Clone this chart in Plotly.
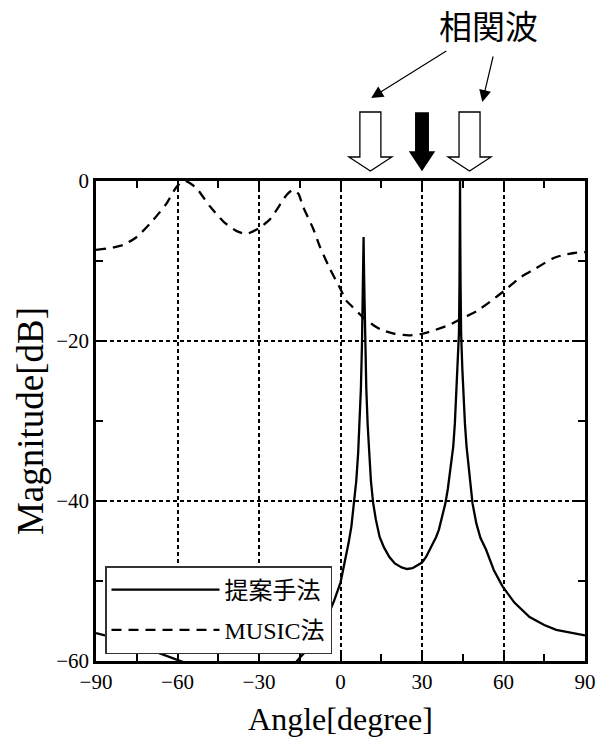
import plotly.graph_objects as go

# --- Spatial spectrum: proposed method (solid) ---
prop_angle = [-90, -80, -70, -66, -60, -55, -50, -45, -40, -35, -30, -25, -20, -17, -15,
              -12.5, -10, -7.5, -5, -2.5, 0, 1.7, 3.0, 4.0, 5.0, 5.8, 6.5, 7.0, 7.5, 7.9,
              8.2, 8.4, 8.5, 8.6, 8.8, 9.1, 9.5, 10.0, 10.5, 11.2, 12.0, 13.0, 14.4, 16,
              18, 20, 22.5, 24.5, 26.5, 28, 30, 31.5, 32.8, 34, 35.2, 36.2, 37, 38.6,
              39.5, 40.5, 41.5, 42.1, 42.6, 43.1, 43.6, 43.8, 43.92, 44.0, 44.08, 44.2,
              44.4, 44.85, 45.3, 45.8, 46.4, 47.4, 48.6, 50, 51.5, 53.6, 56.5, 59.7, 64,
              69.6, 75, 79.4, 85, 90]
prop_db = [-56.5, -57.4, -58.6, -59.1, -59.9, -60.5, -61.8, -63.0, -64.0, -64.3, -63.8,
           -62.6, -61.2, -60.4, -59.6, -58.7, -57.6, -56.3, -54.6, -52.6, -50.2, -47.5,
           -45.2, -43.2, -40.2, -37.5, -34.0, -30.5, -26.0, -20.5, -14.0, -10.0, -7.0,
           -10.0, -14.0, -20.5, -26.0, -30.5, -34.0, -37.5, -40.2, -42.3, -44.5, -45.8,
           -47.0, -47.8, -48.3, -48.5, -48.4, -48.1, -47.7, -47.0, -46.1, -45.4, -44.5,
           -43.6, -42.6, -40.3, -38.5, -36.0, -33.2, -30.3, -27.0, -23.5, -19.0, -13.0,
           -7.0, 0.0, -7.0, -13.0, -19.0, -23.5, -27.0, -30.3, -33.2, -36.5, -40.3,
           -42.8, -44.6, -46.1, -48.7, -50.7, -52.7, -54.5, -55.5, -56.1, -56.5, -56.8]

# --- Spatial spectrum: MUSIC (dashed) ---
music_angle = [-90, -85, -80, -75, -69, -64, -62, -60, -58.5, -57, -55.5, -53, -48, -43,
               -38, -34.5, -30, -26, -23.5, -20, -17.5, -15.5, -13.8, -10, -7.6, -4, 0,
               2, 4, 8.5, 12, 15, 20, 25, 30, 35, 40, 44, 50, 55, 60, 66, 72, 78, 82, 86,
               90]
music_db = [-8.6, -8.4, -8.0, -7.0, -4.9, -2.8, -1.6, -0.6, -0.15, 0.0, -0.25, -0.9,
            -3.2, -5.1, -6.3, -6.6, -5.9, -4.8, -3.6, -1.8, -1.1, -1.6, -3.2, -6.0, -8.2,
            -10.9, -13.5, -14.9, -15.6, -17.1, -18.0, -18.6, -19.1, -19.3, -19.1, -18.6,
            -18.0, -17.3, -16.3, -15.1, -13.8, -12.1, -10.9, -9.7, -9.25, -9.0, -8.9]

# --- Arrival directions marked above the plot ---
arrow_angles = [11, 30, 47.5]
arrow_filled = [False, True, False]
corr_label = "相関波"
corr_label_angle = 54.5
corr_targets = [11.3, 52.2]
corr_tails = [39.5, 56.3]

x_ticks = [-90, -60, -30, 0, 30, 60, 90]
y_ticks = [-60, -40, -20, 0]

serif = "Liberation Serif, Times New Roman, Noto Sans CJK JP"
cjk = "Noto Sans CJK JP"

fig = go.Figure()
fig.add_trace(go.Scatter(x=prop_angle, y=prop_db, mode="lines", name="提案手法",
                         line=dict(color="black", width=2.3),
                         legendgroup="a", xaxis="x", yaxis="y"))
fig.add_trace(go.Scatter(x=music_angle, y=music_db, mode="lines", name="MUSIC法",
                         line=dict(color="black", width=2.3, dash="10px,7px",
                                   shape="spline", smoothing=0.6),
                         legendgroup="b", xaxis="x", yaxis="y"))

# block arrows drawn in the strip above the plot (x in degrees, y in px above plot top)
deg_per_px = 180 / 489
shapes = []
for a, filled in zip(arrow_angles, arrow_filled):
    if filled:
        sw, hw, top, base, tip = 6.3, 12.0, 68, 29, 11
    else:
        sw, hw, top, base, tip = 10.5, 21.5, 69, 24, 10
    sw *= deg_per_px
    hw *= deg_per_px
    path = (f"M{a - sw},{top} L{a + sw},{top} L{a + sw},{base} L{a + hw},{base} "
            f"L{a},{tip} L{a - hw},{base} L{a - sw},{base} Z")
    shapes.append(dict(type="path", path=path, xref="x2", yref="y2",
                       fillcolor="black" if filled else "white",
                       line=dict(color="black", width=1.3)))

annotations = [dict(text=corr_label, x=corr_label_angle, y=156, xref="x2", yref="y2",
                    showarrow=False, font=dict(family=cjk, size=33, color="black"))]
tail_y = [131, 126]
head_y = [83, 79]
for xt, xh, yt, yh in zip(corr_tails, corr_targets, tail_y, head_y):
    annotations.append(dict(text="", x=xh, y=yh, xref="x2", yref="y2",
                            ax=xt, ay=yt, axref="x2", ayref="y2",
                            showarrow=True, arrowhead=2, arrowsize=2.0,
                            arrowwidth=1.2, arrowcolor="black", standoff=0))

axis_common = dict(showline=True, linecolor="black", linewidth=2.5, mirror="allticks",
                   ticks="inside", ticklen=9, tickwidth=2, tickcolor="black",
                   showgrid=True, gridcolor="black", gridwidth=1.6, griddash="4px,3px",
                   zeroline=False, automargin=False,
                   tickfont=dict(family=serif, size=21, color="black"))

fig.update_layout(
    width=600, height=744,
    margin=dict(l=96, r=15, t=0, b=83, autoexpand=False),
    paper_bgcolor="white", plot_bgcolor="white",
    showlegend=True,
    xaxis=dict(range=[-90, 90], tickvals=x_ticks, domain=[0, 1], anchor="y",
               minor=dict(dtick=15, ticks="inside", ticklen=7, tickwidth=2,
                          tickcolor="black", showgrid=False),
               title=dict(text="Angle[degree]", font=dict(family=serif, size=32,
                                                         color="black"), standoff=15),
               **axis_common),
    yaxis=dict(range=[-60, 0], tickvals=y_ticks, domain=[0, 480 / 661], anchor="x",
               minor=dict(dtick=10, ticks="inside", ticklen=7, tickwidth=2,
                          tickcolor="black", showgrid=False),
               title=dict(text="Magnitude[dB]", font=dict(family=serif, size=37,
                                                         color="black"), standoff=2),
               **axis_common),
    xaxis2=dict(matches="x", anchor="y2", visible=False),
    yaxis2=dict(range=[0, 181], domain=[480 / 661, 1], anchor="x2", visible=False,
                fixedrange=True),
    legend=dict(x=(105 - 96) / 489, y=7 / 661, xanchor="left", yanchor="bottom",
                bgcolor="white", bordercolor="#333333", borderwidth=1.5,
                font=dict(family=serif, size=24, color="black"),
                itemwidth=108, tracegroupgap=6, traceorder="grouped"),
    shapes=shapes,
    annotations=annotations,
)

fig.write_html("out.html", config={"displayModeBar": False})
